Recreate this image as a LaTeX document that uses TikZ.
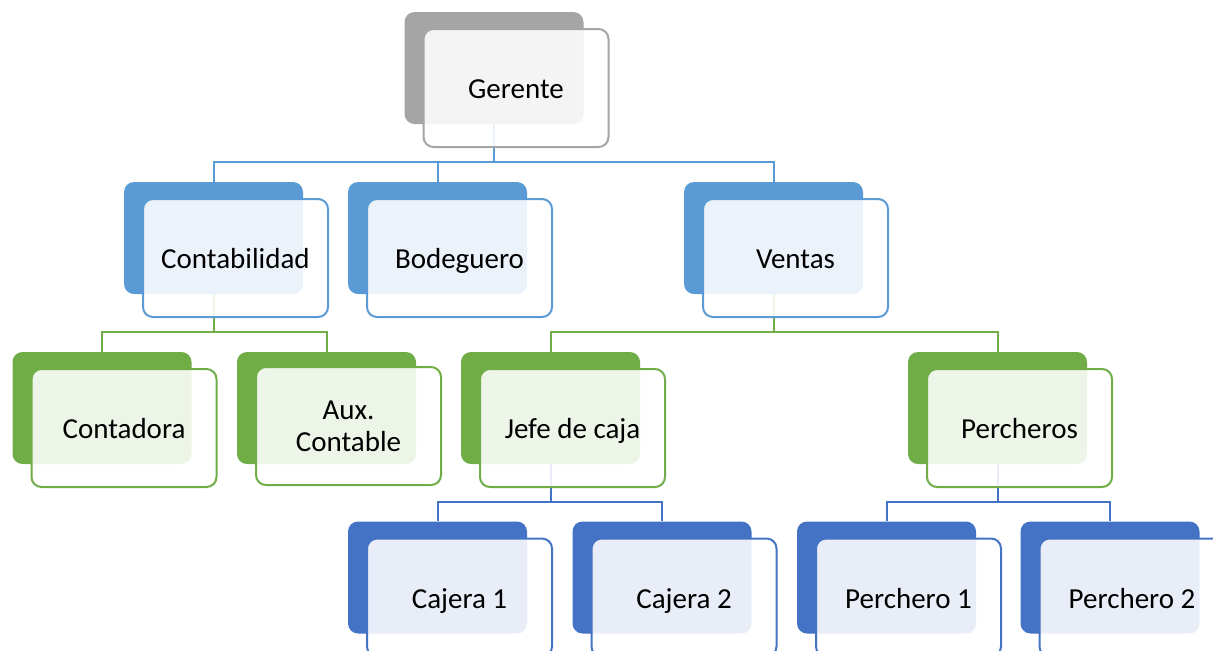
\documentclass[tikz,border=0pt]{standalone}
\usepackage{fontspec}
\setmainfont{Carlito}
\usepackage{tikz}
\usetikzlibrary{positioning}

\definecolor{grisG}{HTML}{A5A5A5}
\definecolor{azulC}{HTML}{5B9BD5}
\definecolor{verde}{HTML}{70AD47}
\definecolor{azulO}{HTML}{4472C4}

\begin{document}
\begin{tikzpicture}
                [x=0.5pt, y=-0.5pt,
                 back/.style = {minimum width = 89.5pt, minimum height = 56pt, inner sep = 0pt, rounded corners = 5pt, fill=#1},
                 front/.style = {minimum width = 92.5pt, minimum height = 59pt, inner sep = 0pt, rounded corners = 5pt, draw=#1, line width=1pt, fill=white, fill opacity=0.88, text opacity=1, align=center, text height=10.8pt, text depth=0.3pt, font=\fontsize{14.5}{16}\selectfont},
                 link/.style = {draw=#1, line width=1pt}]

    \clip (0,0) rectangle (1213,650);
    \useasboundingbox (0,0) rectangle (1213,650);

    % cajas de fondo
    \node[back=grisG] (ger) at (494,68) {};
    \node[back=azulC] (cont) at (213.5,238) {};
    \node[back=azulC] (bod) at (437.5,238) {};
    \node[back=azulC] (ven) at (773.5,238) {};
    \node[back=verde] (ctd) at (102,408) {};
    \node[back=verde] (aux) at (326.5,408) {};
    \node[back=verde] (jefe) at (550.5,408) {};
    \node[back=verde] (perc) at (997.5,408) {};
    \node[back=azulO] (caj1) at (437.5,577.5) {};
    \node[back=azulO] (caj2) at (662,577.5) {};
    \node[back=azulO] (per1) at (886.5,577.5) {};
    \node[back=azulO] (per2) at (1110,577.5) {};

    % conectores
    \draw[link=azulC] (ger.south) -- ++(0,38) -| (cont.north);
    \draw[link=azulC] (ger.south) -- ++(0,38) -| (bod.north);
    \draw[link=azulC] (ger.south) -- ++(0,38) -| (ven.north);
    \draw[link=verde] (cont.south) -- ++(0,38) -| (ctd.north);
    \draw[link=verde] (cont.south) -- ++(0,38) -| (aux.north);
    \draw[link=verde] (ven.south) -- ++(0,38) -| (jefe.north);
    \draw[link=verde] (ven.south) -- ++(0,38) -| (perc.north);
    \draw[link=azulO] (jefe.south) -- ++(0,38) -| (caj1.north);
    \draw[link=azulO] (jefe.south) -- ++(0,38) -| (caj2.north);
    \draw[link=azulO] (perc.south) -- ++(0,38) -| (per1.north);
    \draw[link=azulO] (perc.south) -- ++(0,38) -| (per2.north);

    % cajas de texto
    \node[front=grisG] (gerT) at ([shift={(22,20)}]ger.center) {Gerente};
    \node[front=azulC] (contT) at ([shift={(22,20)}]cont.center) {Contabilidad};
    \node[front=azulC] (bodT) at ([shift={(22,20)}]bod.center) {Bodeguero};
    \node[front=azulC] (venT) at ([shift={(22,20)}]ven.center) {Ventas};
    \node[front=verde] (ctdT) at ([shift={(22,20)}]ctd.center) {Contadora};
    \node[front=verde, text height=, text depth=] (auxT) at ([shift={(22,18)}]aux.center) {Aux.\\Contable};
    \node[front=verde] (jefeT) at ([shift={(22,20)}]jefe.center) {Jefe de caja};
    \node[front=verde] (percT) at ([shift={(22,20)}]perc.center) {Percheros};
    \node[front=azulO] (caj1T) at ([shift={(22,20)}]caj1.center) {Cajera 1};
    \node[front=azulO] (caj2T) at ([shift={(22,20)}]caj2.center) {Cajera 2};
    \node[front=azulO] (per1T) at ([shift={(22,20)}]per1.center) {Perchero 1};
    \node[front=azulO] (per2T) at ([shift={(22,20)}]per2.center) {Perchero 2};
\end{tikzpicture}
\end{document}
